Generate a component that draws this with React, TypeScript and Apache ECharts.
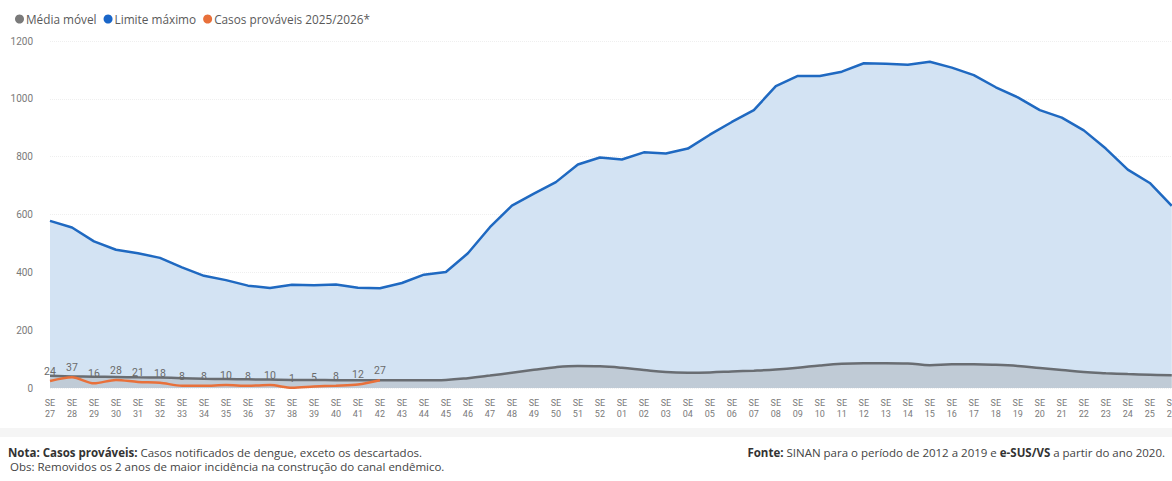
import React, { useEffect, useRef } from "react";
import * as echarts from "echarts";

const weeks: string[] = [
  "27","28","29","30","31","32","33","34","35","36","37","38","39","40","41","42","43","44","45","46","47","48","49","50","51","52",
  "01","02","03","04","05","06","07","08","09","10","11","12","13","14","15","16","17","18","19","20","21","22","23","24","25","26",
];

const limiteMaximo: number[] = [
  578, 555, 507, 478, 466, 450, 417, 388, 373, 354,
  346, 357, 355, 358, 347, 345, 363, 392, 401, 466,
  556, 631, 672, 712, 773, 797,
  790, 815, 811, 828, 876, 920, 961, 1044, 1079, 1079,
  1094, 1123, 1121, 1118, 1128, 1108, 1082, 1040, 1005, 961,
  935, 891, 828, 755, 709, 630,
];

const mediaMovel: number[] = [
  42, 40, 39, 38, 37, 36, 34, 32, 31, 30,
  29, 28, 28, 27, 27, 27, 27, 27, 28, 34,
  43, 53, 63, 72, 76, 75,
  70, 62, 55, 53, 54, 57, 60, 64, 70, 78,
  84, 86, 86, 85, 79, 82, 82, 80, 76, 69,
  62, 55, 51, 48, 46, 44,
];

const casosProvaveis: number[] = [24, 37, 16, 28, 21, 18, 8, 8, 10, 8, 10, 1, 5, 8, 12, 27];

const yTicks: number[] = [0, 200, 400, 600, 800, 1000, 1200];

const BLUE = "#1f69c1";
const GRAY = "#696d72";
const ORANGE = "#e8703a";
const UI_FONT = "'Open Sans', 'Noto Sans', sans-serif";
const AXIS_FONT = "Roboto, 'DejaVu Sans', sans-serif";

export default function App() {
  const ref = useRef<HTMLDivElement>(null);

  useEffect(() => {
    if (!ref.current) return;
    const chart = echarts.init(ref.current, undefined, { renderer: "svg" });
    chart.setOption({
      animation: false,
      backgroundColor: "#ffffff",
      legend: {
        left: 10,
        top: 8,
        itemWidth: 9,
        itemHeight: 9,
        itemGap: 7,
        icon: "circle",
        textStyle: { color: "#5a5a5a", fontSize: 11.8, fontFamily: UI_FONT, padding: [0, 0, 0, -3] },
        data: [
          { name: "Média móvel", itemStyle: { color: "#7a7a7a" } },
          { name: "Limite máximo", itemStyle: { color: "#1a66c8" } },
          { name: "Casos prováveis 2025/2026*", itemStyle: { color: ORANGE } },
        ],
      },
      grid: { left: 50, right: 8, top: 41, bottom: 93, containLabel: false },
      xAxis: {
        type: "category",
        boundaryGap: false,
        data: weeks.map((w) => "SE\n" + w),
        axisLine: { show: false },
        axisTick: { show: false },
        axisLabel: {
          interval: 0,
          color: "#7a7a7a",
          fontSize: 9,
          lineHeight: 11,
          margin: 9,
          fontFamily: AXIS_FONT,
        },
      },
      yAxis: {
        type: "value",
        min: yTicks[0],
        max: yTicks[yTicks.length - 1],
        interval: 200,
        axisLine: { show: false },
        axisTick: { show: false },
        axisLabel: {
          color: "#7a7a7a",
          fontSize: 10,
          margin: 17,
          fontFamily: AXIS_FONT,
          formatter: (v: number) => String(v),
        },
        splitLine: { lineStyle: { color: "#efefef", type: "dotted", width: 1 } },
      },
      series: [
        {
          name: "Limite máximo",
          type: "line",
          data: limiteMaximo,
          symbol: "none",
          lineStyle: { color: BLUE, width: 2.5 },
          itemStyle: { color: BLUE },
          areaStyle: { color: "#d3e3f3", opacity: 1 },
          z: 1,
        },
        {
          name: "Média móvel",
          type: "line",
          data: mediaMovel,
          symbol: "none",
          smooth: 0.4,
          lineStyle: { color: GRAY, width: 2.5 },
          itemStyle: { color: GRAY },
          areaStyle: { color: "rgba(150,150,150,0.3)", opacity: 1 },
          z: 2,
        },
        {
          name: "Casos prováveis 2025/2026*",
          type: "line",
          data: casosProvaveis,
          symbol: "circle",
          symbolSize: 0.1,
          showSymbol: true,
          showAllSymbol: true,
          smooth: 0.3,
          lineStyle: { color: ORANGE, width: 2.5 },
          itemStyle: { color: ORANGE },
          label: {
            show: true,
            position: "top",
            distance: 4,
            color: "#6a6a6a",
            fontSize: 10.5,
            fontFamily: AXIS_FONT,
          },
          labelLayout: { hideOverlap: false },
          z: 3,
        },
      ],
      graphic: [
        {
          type: "rect",
          shape: { x: 0, y: 428, width: 1180, height: 9 },
          style: { fill: "#f5f5f5" },
          silent: true,
        },
        {
          type: "text",
          x: 8,
          y: 452,
          style: {
            text: "{b|Nota: Casos prováveis:} Casos notificados de dengue, exceto os descartados.",
            fill: "#444",
            font: "11.5px " + UI_FONT,
            verticalAlign: "middle",
            rich: { b: { fontWeight: "bold", fill: "#333", fontSize: 11.5, fontFamily: UI_FONT } },
          },
        },
        {
          type: "text",
          x: 10,
          y: 466,
          style: {
            text: "Obs: Removidos os 2 anos de maior incidência na construção do canal endêmico.",
            fill: "#444",
            font: "11.5px " + UI_FONT,
            verticalAlign: "middle",
          },
        },
        {
          type: "text",
          x: 1165,
          y: 452,
          style: {
            text: "{b|Fonte:} SINAN para o período de 2012 a 2019 e {b|e-SUS/VS} a partir do ano 2020.",
            fill: "#444",
            font: "11.5px " + UI_FONT,
            align: "right",
            verticalAlign: "middle",
            rich: { b: { fontWeight: "bold", fill: "#333", fontSize: 11.5, fontFamily: UI_FONT } },
          },
        },
      ],
    });
    return () => chart.dispose();
  }, []);

  return (
    <div style={{ position: "fixed", left: 0, top: 0, width: 1172, height: 481, overflow: "hidden", background: "#fff" }}>
      <div ref={ref} style={{ width: 1180, height: 481 }} />
    </div>
  );
}
